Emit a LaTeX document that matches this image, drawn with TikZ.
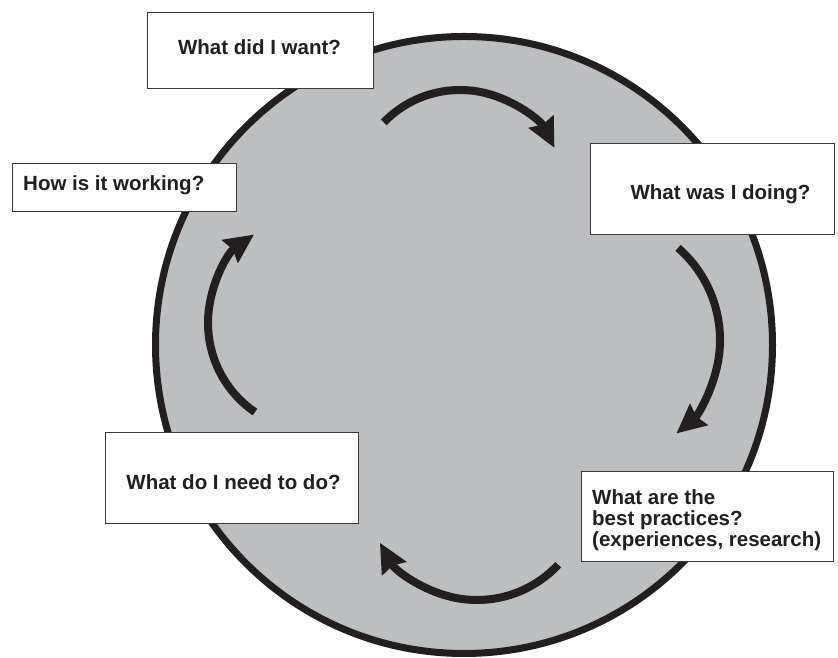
\documentclass[tikz,border=0pt]{standalone}
\usepackage{fontspec}
\setmainfont{Liberation Sans}
\usetikzlibrary{arrows.meta}
\definecolor{discgray}{RGB}{188,190,192}
\definecolor{inkblack}{RGB}{35,31,32}
\definecolor{boxline}{RGB}{60,58,58}
\tikzset{
  qbox/.style={draw=boxline, line width=1pt, fill=white, rectangle, inner sep=0pt},
  qtext/.style={inner sep=0pt, font=\fontsize{20.5}{21.3}\selectfont\bfseries, text=inkblack},
  cyclearrow/.style={draw=inkblack, line width=8pt, -{Stealth[length=29pt, width=27pt, inset=3pt]}},
}
\begin{document}
\begin{tikzpicture}[x=1pt, y=1pt]
\useasboundingbox (0,0) rectangle (838,658);
% disc
\coordinate (disccenter) at (464,313);
\draw[draw=inkblack, fill=discgray, line width=7pt] (disccenter) circle[radius=308.5];
% cycle arrows
\coordinate (c1) at (460,462);
\coordinate (c2) at (598,318);
\coordinate (c3) at (477,169);
\coordinate (c4) at (316,335);
\draw[cyclearrow] (c1) ++(136:106) arc[start angle=136, end angle=27, radius=106];
\draw[cyclearrow] (c2) ++(49:122) arc[start angle=49, end angle=-50, radius=122];
\draw[cyclearrow] (c3) ++(-43:111) arc[start angle=-43, end angle=-151, radius=111];
\draw[cyclearrow] (c4) ++(235.6:108) arc[start angle=235.6, end angle=125, radius=108];
% boxes
\node[qbox, minimum width=226pt, minimum height=76pt] (want) at (260,607) {};
\node[qbox, minimum width=224pt, minimum height=48pt] (working) at (124,470) {};
\node[qbox, minimum width=244pt, minimum height=91pt] (doing) at (712,468.5) {};
\node[qbox, minimum width=252pt, minimum height=90pt] (practices) at (707,141) {};
\node[qbox, minimum width=253pt, minimum height=91pt] (needdo) at (231.5,179.5) {};
% texts
\node[qtext, anchor=base] (wanttext) at (259.5,603) {What did I want?};
\node[qtext, anchor=base west] (workingtext) at (23,467.3) {How is it working?};
\node[qtext, anchor=base] (doingtext) at (720.5,458) {What was I doing?};
\node[qtext, anchor=base west, align=left] (practicestext) at (592,111.3) {What are the\\best practices?\\(experiences, research)};
\node[qtext, anchor=base] (needdotext) at (233.5,168) {What do I need to do?};
\end{tikzpicture}
\end{document}
